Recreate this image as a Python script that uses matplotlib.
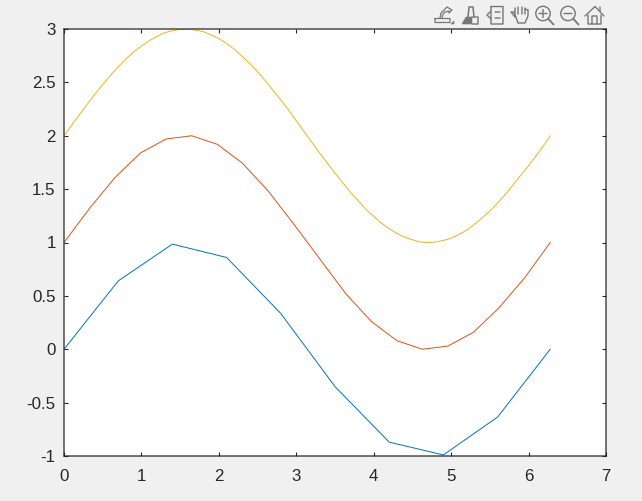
import matplotlib
matplotlib.use("Agg")
import matplotlib.pyplot as plt
from matplotlib.patches import Circle, Polygon

x_blue = [0, 0.7, 1.4, 2.1, 2.8, 3.5, 4.2, 4.9, 5.6, 6.28]
y_blue = [0, 0.64, 0.985, 0.86, 0.335, -0.35, -0.87, -0.99, -0.635, 0]

x_red = [0, 0.33, 0.66, 0.99, 1.32, 1.65, 1.98, 2.31, 2.64, 2.97, 3.31, 3.64,
         3.97, 4.30, 4.63, 4.96, 5.29, 5.62, 5.95, 6.28]
y_red = [1, 1.32, 1.61, 1.84, 1.97, 2.0, 1.92, 1.74, 1.48, 1.17, 0.84, 0.52,
         0.26, 0.08, 0.0, 0.03, 0.16, 0.39, 0.67, 1]

x_yellow = [0.0, 0.1, 0.2, 0.3, 0.4, 0.5, 0.6, 0.7, 0.8, 0.9,
            1.0, 1.1, 1.2, 1.3, 1.4, 1.5, 1.6, 1.7, 1.8, 1.9,
            2.0, 2.1, 2.2, 2.3, 2.4, 2.5, 2.6, 2.7, 2.8, 2.9,
            3.0, 3.1, 3.2, 3.3, 3.4, 3.5, 3.6, 3.7, 3.8, 3.9,
            4.0, 4.1, 4.2, 4.3, 4.4, 4.5, 4.6, 4.7, 4.8, 4.9,
            5.0, 5.1, 5.2, 5.3, 5.4, 5.5, 5.6, 5.7, 5.8, 5.9,
            6.0, 6.1, 6.2, 6.28]
y_yellow = [2.00, 2.10, 2.20, 2.295, 2.39, 2.48, 2.565, 2.645, 2.72, 2.785,
            2.84, 2.89, 2.93, 2.965, 2.985, 2.997, 3.0, 2.99, 2.975, 2.945,
            2.91, 2.865, 2.81, 2.745, 2.675, 2.60, 2.515, 2.425, 2.335, 2.24,
            2.14, 2.04, 1.94, 1.84, 1.745, 1.65, 1.56, 1.47, 1.39, 1.31,
            1.245, 1.18, 1.13, 1.085, 1.05, 1.025, 1.005, 1.00, 1.005, 1.02,
            1.04, 1.075, 1.115, 1.17, 1.23, 1.295, 1.37, 1.45, 1.54, 1.63,
            1.72, 1.815, 1.915, 2.00]

x_ticks = [0, 1, 2, 3, 4, 5, 6, 7]
y_ticks = [-1, -0.5, 0, 0.5, 1, 1.5, 2, 2.5, 3]
y_tick_labels = ["-1", "-0.5", "0", "0.5", "1", "1.5", "2", "2.5", "3"]

W, H = 642, 501
INK = "#262626"
ICON = "#777777"

plt.rcParams["font.family"] = ["Liberation Sans", "DejaVu Sans"]
plt.rcParams["path.simplify"] = False
plt.rcParams["path.snap"] = False
fig = plt.figure(figsize=(W / 100, H / 100), dpi=100, facecolor="#f0f0f0")
ax = fig.add_axes([64 / W, 1 - 456 / H, (606 - 64) / W, (456 - 29) / H], facecolor="white")

ax.plot(x_blue, y_blue, color="#0072BD", lw=0.7)
ax.plot(x_red, y_red, color="#D95319", lw=0.7)
ax.plot(x_yellow, y_yellow, color="#EDB120", lw=0.7)

ax.set_xlim(0, 7)
ax.set_ylim(-1, 3)
ax.set_xticks(x_ticks)
ax.set_yticks(y_ticks)
ax.set_yticklabels(y_tick_labels)
ax.tick_params(axis="both", direction="in", length=3.0, width=0.8, color=INK,
               labelcolor=INK, labelsize=12.2, top=True, right=True)
ax.tick_params(axis="x", pad=9.5)
ax.tick_params(axis="y", pad=6)
for s in ax.spines.values():
    s.set_linewidth(0.9)
    s.set_color(INK)

# toolbar icons, drawn in pixel coordinates
ov = fig.add_axes([0, 0, 1, 1], facecolor="none")
ov.set_xlim(0, W)
ov.set_ylim(H, 0)
ov.axis("off")


def ln(xs, ys, w=1.0):
    ov.plot(xs, ys, color=ICON, lw=w, solid_capstyle="round", solid_joinstyle="round")


# edit arrow
ln([435, 450, 450, 435, 435], [18.5, 18.5, 22.5, 22.5, 18.5], 0.9)
ln([440, 441, 445, 447, 452, 449, 449, 445, 443, 442], [18, 13, 9, 7, 10, 13, 11, 12, 14, 18], 0.9)
ov.add_patch(Polygon([[451, 24], [454, 24], [454, 21]], fc=ICON, ec=ICON, lw=0.4))
# brush
ov.add_patch(Polygon([[462, 24], [466, 17], [472, 17], [472, 24]], fc=ICON, ec=ICON, lw=0.4))
ln([472, 478, 478, 472], [24, 24, 17, 17], 1.0)
ln([468, 469, 473, 474], [17, 7, 7, 17], 1.1)
# legend
ln([491, 503, 503, 491, 491], [6.5, 6.5, 24, 24, 6.5], 1.0)
ln([491, 487, 491], [11, 15, 19], 1.0)
ln([495, 500], [12, 12], 1.0)
ln([495, 500], [18, 18], 1.0)
# hand
ln([515, 511, 514, 518, 525, 528, 528], [17, 12, 12, 23, 23, 16, 10], 1.0)
ln([515, 515], [14, 8], 1.0)
ln([518, 518], [14, 7], 1.0)
ln([522, 522], [14, 7], 1.0)
ln([525, 525], [14, 8], 1.0)
ln([528, 525], [10, 9], 1.0)
# zoom in / zoom out
for cx, plus in [(543, True), (568, False)]:
    ov.add_patch(Circle((cx, 13.5), 7.2, fc="none", ec=ICON, lw=1.0))
    ln([cx + 5, cx + 10.5], [18.5, 24.5], 1.3)
    ln([cx - 4, cx + 4], [13.5, 13.5], 1.0)
    if plus:
        ln([cx, cx], [9.5, 17.5], 1.0)
# home
ln([585, 595, 604], [16, 6.5, 16], 1.0)
ln([588, 588, 601, 601], [15, 24, 24, 15], 1.0)
ln([592, 592, 597, 597], [24, 16, 16, 24], 1.0)
ln([600, 600], [7, 11], 1.0)

fig.savefig("out.png", dpi=100, facecolor=fig.get_facecolor())
